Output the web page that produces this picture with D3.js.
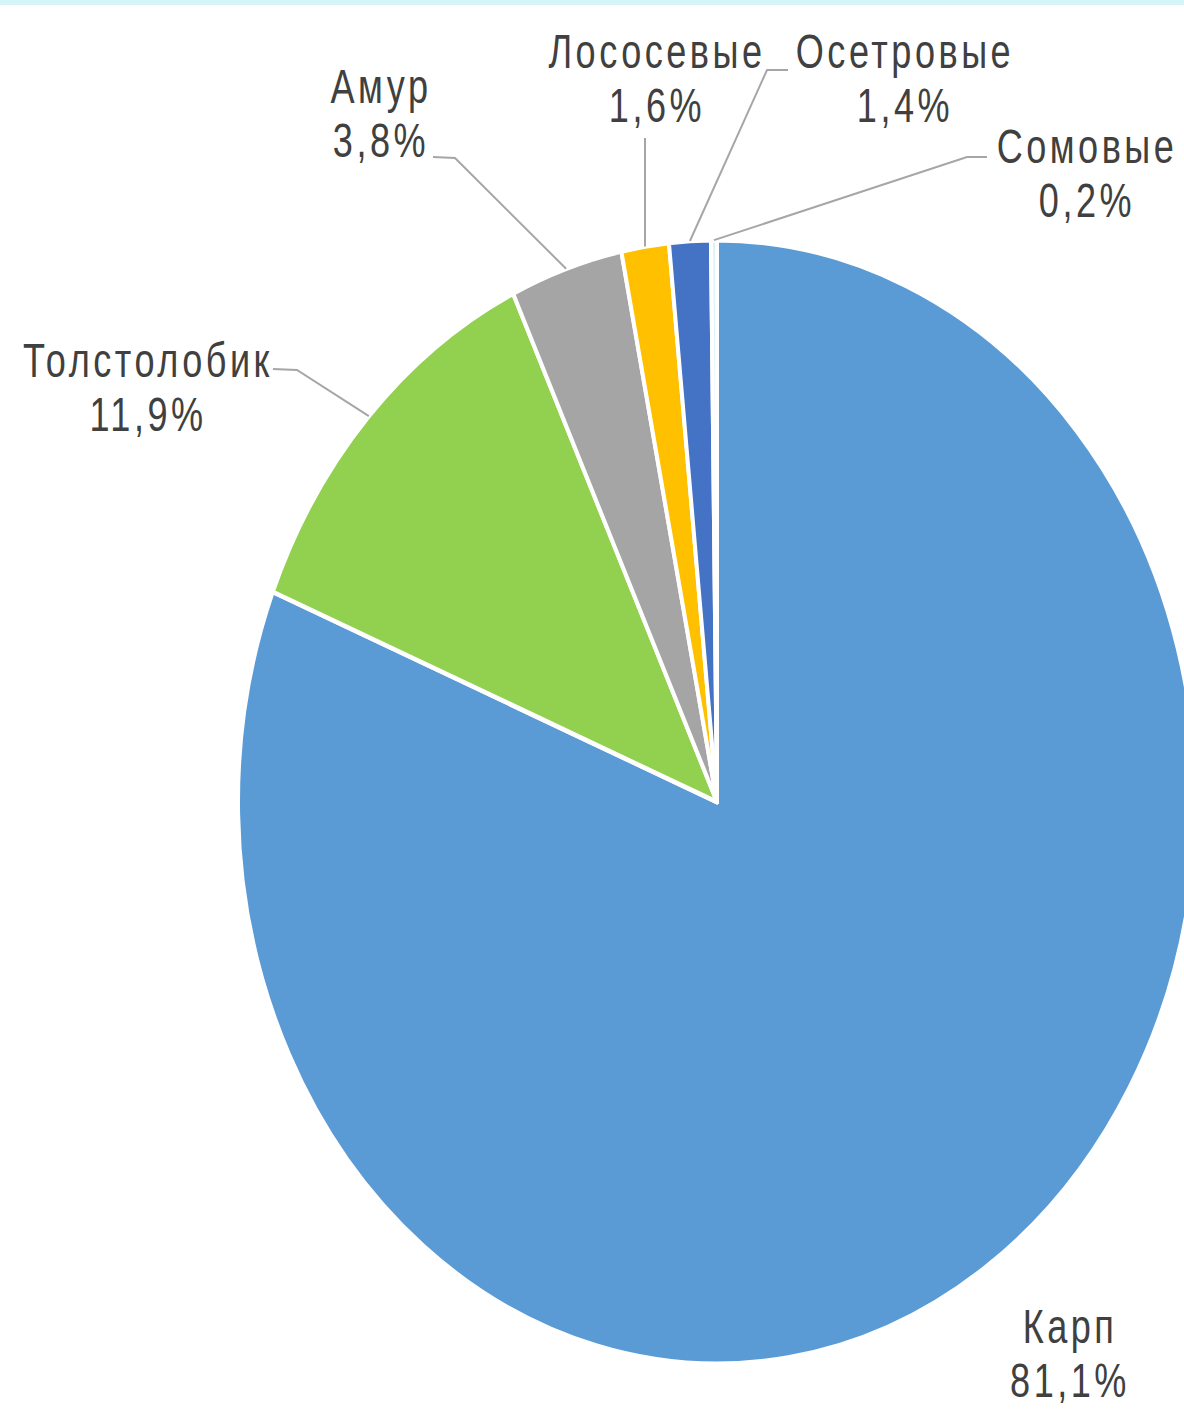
<!DOCTYPE html>
<html>
<head>
<meta charset="utf-8">
<script src="https://cdn.jsdelivr.net/npm/d3@7"></script>
<style>
  body { margin: 0; background: #fff; }
  text { font-family: "Liberation Sans Narrow", "Liberation Sans", Arial, sans-serif; fill: #404040; }
</style>
</head>
<body>
<div id="canvas"></div>
<script>
// data
const categories = ["Карп", "Толстолобик", "Амур", "Лососевые", "Осетровые", "Сомовые"];
const shares = [81.1, 11.9, 3.8, 1.6, 1.4, 0.2];
const shareLabels = ["81,1%", "11,9%", "3,8%", "1,6%", "1,4%", "0,2%"];
const colors = ["#5b9bd5", "#92d050", "#a5a5a5", "#ffc000", "#4472c4", "#dff2fa"];

// label placement (centre x, first baseline y, leader points before slice)
const labelPos = [
    { x: 1070, y: 1343, leader: null },
    { x: 148, y: 377, leader: [[273, 369], [297, 370]] },
    { x: 381, y: 103, leader: [[433, 157], [455, 158]] },
    { x: 657, y: 68, leader: [[645, 138]] },
    { x: 905, y: 68, leader: [[788, 70], [767, 70]] },
    { x: 1087, y: 163, leader: [[987, 157], [967, 157]] }
];

const W = 1184, H = 1412;
const cx = 717, cy = 802;
const r = 479;
const k = 1.173; // the picture is stretched vertically

const svg = d3.select("#canvas").append("svg")
    .attr("width", W)
    .attr("height", H);

svg.append("rect")
    .attr("x", 0).attr("y", 0)
    .attr("width", W).attr("height", 5)
    .attr("fill", "#d5f5fb");

const data = categories.map((c, i) => ({ name: c, value: shares[i], label: shareLabels[i], color: colors[i], pos: labelPos[i] }));

const pie = d3.pie().sort(null).value(d => d.value);
const arcs = pie(data);

const arc = d3.arc().innerRadius(0).outerRadius(r);

const g = svg.append("g")
    .attr("transform", `translate(${cx}, ${cy}) scale(1, ${k})`);

g.selectAll("path")
    .data(arcs)
    .enter().append("path")
    .attr("d", arc)
    .attr("fill", d => d.data.color)
    .attr("stroke", "#fff")
    .attr("stroke-width", 4)
    .attr("stroke-linejoin", "round");

// leader lines
const edgePoint = d => {
    const a = (d.startAngle + d.endAngle) / 2;
    return [cx + r * Math.sin(a), cy - r * k * Math.cos(a)];
};
const line = d3.line();

svg.selectAll(".leader")
    .data(arcs.filter(d => d.data.pos.leader))
    .enter().append("path")
    .attr("class", "leader")
    .attr("d", d => line(d.data.pos.leader.concat([edgePoint(d)])))
    .attr("fill", "none")
    .attr("stroke", "#a6a6a6")
    .attr("stroke-width", 2);

// labels (narrow font look: squeeze horizontally)
const labels = svg.selectAll(".label")
    .data(arcs)
    .enter().append("g")
    .attr("class", "label")
    .attr("transform", d => `translate(${d.data.pos.x}, ${d.data.pos.y}) scale(0.88, ${k})`);

labels.append("text")
    .attr("text-anchor", "middle")
    .attr("font-size", 41)
    .attr("letter-spacing", 4)
    .text(d => d.data.name);

labels.append("text")
    .attr("text-anchor", "middle")
    .attr("font-size", 41)
    .attr("letter-spacing", 4)
    .attr("y", 46)
    .text(d => d.data.label);
</script>
</body>
</html>
